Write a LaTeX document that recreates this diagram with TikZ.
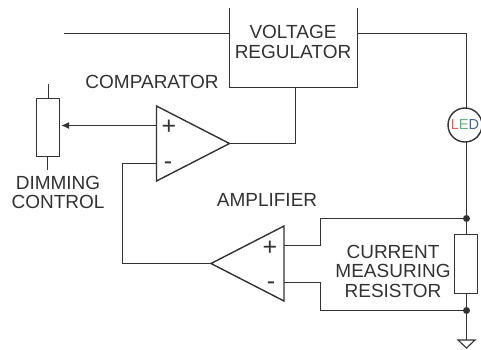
\documentclass[tikz,border=0pt]{standalone}
\usepackage{fontspec}
\setmainfont{Liberation Sans}
\usepackage{xcolor}
\usetikzlibrary{arrows.meta,shapes.geometric}
\definecolor{wire_grey}{RGB}{50,50,50}
\definecolor{led_red}{RGB}{232,90,90}
\definecolor{led_green}{RGB}{85,180,120}
\definecolor{led_blue}{RGB}{60,100,175}
\tikzset{
  wire/.style={draw=wire_grey, line width=1.4pt},
  label/.style={text=wire_grey, font=\fontsize{19}{19.5}\selectfont, align=center, inner sep=0pt},
  pin/.style={text=wire_grey, font=\fontsize{25}{25}\selectfont, inner sep=0pt},
  resbox/.style={wire, rectangle, inner sep=0pt, outer sep=0pt, minimum width=23pt, minimum height=58pt},
  opamp/.style={wire, isosceles triangle, isosceles triangle stretches, inner sep=0pt, outer sep=0pt,
    minimum width=75pt, minimum height=73pt},
  joint/.style={circle, fill=wire_grey, inner sep=0pt, minimum size=7pt}
}
\begin{document}
\begin{tikzpicture}[x=1pt, y=-1pt]
  \useasboundingbox (0,0) rectangle (481,349);
  % Regulator, open at the top edge
  \coordinate (regtl) at (229.5,8);
  \coordinate (regbl) at (229.5,87.5);
  \coordinate (regbr) at (357.5,87.5);
  \coordinate (regtr) at (357.5,8);
  \coordinate (regin) at (229.5,33.5);
  \coordinate (regout) at (357.5,33.5);
  \coordinate (supply) at (64,33.5);
  \coordinate (regfb) at (295.5,87.5);
  \draw[wire] (regtl) -- (regbl) -- (regbr) -- (regtr);
  \draw[wire] (supply) -- (regin);
  \node[label] (reglabel) at (293,42) {VOLTAGE\\REGULATOR};
  % Op amps
  \node[opamp, anchor=apex] (comp) at (229.5,143.5) {};
  \node[opamp, anchor=apex, shape border rotate=180] (amp) at (211,263.5) {};
  \coordinate (compplus) at (156,125.5);
  \coordinate (compminus) at (156,163.5);
  \coordinate (ampplus) at (284,245.5);
  \coordinate (ampminus) at (284,282.5);
  \node[pin] (cplus) at (169,127) {+};
  \node[pin] (cminus) at (168,166) {-};
  \node[pin] (aplus) at (270,248) {+};
  \node[pin] (aminus) at (271,286) {-};
  \node[label] (complabel) at (152,82) {COMPARATOR};
  \node[label] (amplabel) at (267,200) {AMPLIFIER};
  % Dimming pot
  \node[resbox] (pot) at (48,127.5) {};
  \coordinate (pottop) at (48.5,84);
  \coordinate (potbot) at (47.5,170);
  \draw[wire] (pot.north -| pottop) -- (pottop);
  \draw[wire] (pot.south -| potbot) -- (potbot);
  \coordinate (wiper) at (61,125.5);
  \draw[wire, -{Latex[length=8pt,width=7pt]}] (compplus) -- (wiper);
  \node[label] (potlabel) at (58,192.5) {DIMMING\\CONTROL};
  % LED and sense resistor
  \node[wire, circle, inner sep=0pt, outer sep=0pt, minimum size=34pt] (led) at (465,125) {};
  \node[inner sep=0pt, font=\fontsize{14.5}{15}\selectfont] (ledtext) at (465,125)
    {\textcolor{led_red}{L}\textcolor{led_green}{E}\textcolor{led_blue}{D}};
  \node[joint] (senset) at (466.5,218.5) {};
  \node[joint] (senseb) at (466.5,310.5) {};
  \node[resbox, minimum height=59pt] (sense) at (466,264) {};
  \node[label] (senselabel) at (393,271) {CURRENT\\MEASURING\\RESISTOR};
  \coordinate (corner) at (466.5,33.5);
  \coordinate (gnd) at (466.5,340);
  \node[draw=wire_grey, line width=1.1pt, isosceles triangle, isosceles triangle stretches, shape border rotate=-90, inner sep=0pt, outer sep=0pt,
    minimum width=17pt, minimum height=8pt, anchor=lower side] (earth) at (gnd) {};
  % Wiring
  \draw[wire] (regout) -- (corner) -- (corner |- led.north);
  \draw[wire] (corner |- led.south) -- (senset) -- (senset |- sense.north);
  \draw[wire] (senseb |- sense.south) -- (senseb) -- (gnd);
  \draw[wire] (comp.apex) -| (regfb);
  \draw[wire] (ampplus) -- (320.5,245.5) -- (320.5,218.5) -- (senset);
  \draw[wire] (ampminus) -- (320.5,282.5) -- (320.5,310.5) -- (senseb);
  \draw[wire] (amp.apex) -- (122.5,263.5) -- (122.5,163.5) -- (compminus);
\end{tikzpicture}
\end{document}
